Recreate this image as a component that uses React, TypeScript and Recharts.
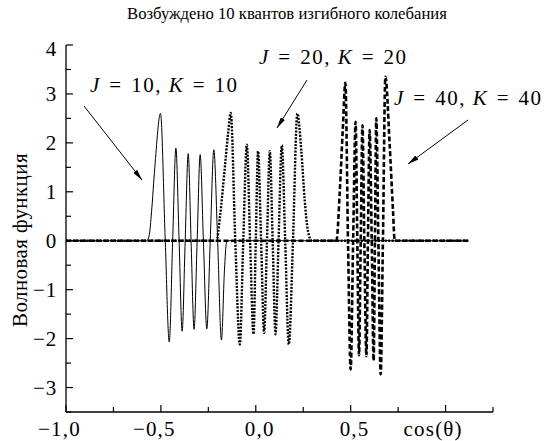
import { Line, LineChart, XAxis, YAxis } from 'recharts';

// axis ticks
const xTicks = [-1, -0.75, -0.5, -0.25, 0, 0.25, 0.5, 0.75, 1, 1.25];
const xTickLabels = ['−1,0', '', '−0,5', '', '0,0', '', '0,5', '', 'cos(θ)', ''];
const yTicks = [-3.5, -3, -2.5, -2, -1.5, -1, -0.5, 0, 0.5, 1, 1.5, 2, 2.5, 3, 3.5, 4];
const yTickLabels = ['', '−3', '', '−2', '', '−1', '', '0', '', '1', '', '2', '', '3', '', '4'];

// J = 10, K = 10 (solid)
const j10X = [-1, -0.575, -0.562, -0.549, -0.532, -0.502, -0.477, -0.456, -0.438, -0.421, -0.404, -0.388, -0.372, -0.356, -0.341, -0.325, -0.309, -0.293, -0.276, -0.258, -0.24, -0.221, -0.201, -0.181, -0.165, -0.155, -0.145, 1.12];
const j10Y = [0, 0, 0.1, 0.6, 1.5, 2.6, 0, -2.07, 0, 1.89, 0, -1.85, 0, 1.78, 0, -1.81, 0, 1.76, 0, -1.8, 0, 1.86, 0, -2.03, -0.6, -0.05, 0, 0];

// J = 20, K = 20 (dotted)
const j20X = [-1, -0.207, -0.189, -0.163, -0.146, -0.132, -0.108, -0.084, -0.066, -0.047, -0.03, -0.012, 0, 0.012, 0.028, 0.044, 0.059, 0.074, 0.089, 0.104, 0.12, 0.137, 0.155, 0.174, 0.196, 0.219, 0.24, 0.258, 0.275, 0.295, 1.12];
const j20Y = [0, 0, 0.48, 1.5, 2.19, 2.61, 0, -2.12, 0, 1.96, 0, -1.91, 0, 1.83, 0, -1.88, 0, 1.83, 0, -1.91, 0, 1.95, 0, -2.12, 0, 2.6, 1.84, 0.82, 0.2, 0, 0];

// J = 40, K = 40 (dashed)
const j40X = [-1, 0.425, 0.442, 0.459, 0.472, 0.486, 0.5, 0.513, 0.526, 0.535, 0.544, 0.553, 0.562, 0.572, 0.583, 0.591, 0.6, 0.611, 0.621, 0.628, 0.635, 0.646, 0.658, 0.67, 0.683, 0.705, 0.723, 0.732, 1.12];
const j40Y = [0, 0, 0.96, 2.32, 3.23, 0, -2.63, 0, 2.43, 0, -2.34, 0, 2.36, 0, -2.36, 0, 2.26, 0, -2.45, 0, 2.5, 0, -2.73, 0, 3.35, 2.0, 0.62, 0, 0];

const toRows = (xs: number[], ys: number[]) => xs.map((x, i) => ({ x, y: ys[i] }));
const j10Data = toRows(j10X, j10Y);
const j20Data = toRows(j20X, j20Y);
const j40Data = toRows(j40X, j40Y);

const FONT = '"Liberation Serif", "DejaVu Serif", serif';

function XTick(props: any) {
  const { x, y, payload } = props;
  const i = xTicks.indexOf(payload.value);
  const label = xTickLabels[i] || '';
  const major = label !== '';
  let dx = -11;
  if (label.startsWith('−')) dx = -28;
  if (label.startsWith('cos')) dx = -42;
  return (
    <g>
      <line x1={x} y1={y} x2={x} y2={y - (major ? 7 : 5)} stroke="#000" strokeWidth={1.2} />
      {label ? (
        <text x={x + dx} y={y + 24} fontFamily={FONT} fontSize={21} letterSpacing={1.2} fill="#000" textAnchor="start">
          {label}
        </text>
      ) : null}
    </g>
  );
}

function YTick(props: any) {
  const { x, y, payload } = props;
  const i = yTicks.indexOf(payload.value);
  const label = yTickLabels[i] || '';
  const major = label !== '';
  return (
    <g>
      <line x1={x} y1={y} x2={x + (major ? 7 : 5)} y2={y} stroke="#000" strokeWidth={1.2} />
      {label ? (
        <text x={x - 9} y={y + 7 + (payload.value === 4 ? 4 : 0)} fontFamily={FONT} fontSize={21} letterSpacing={0.8} fill="#000" textAnchor="end">
          {label}
        </text>
      ) : null}
    </g>
  );
}

function Label({ x, y, n }: { x: number; y: number; n: string }) {
  return (
    <text x={x} y={y} fontFamily={FONT} fontSize={21} fill="#000" letterSpacing={1.5}>
      <tspan fontStyle="italic">J</tspan>
      {`\u2004=\u2004${n}, `}
      <tspan fontStyle="italic">K</tspan>
      {`\u2004=\u2004${n}`}
    </text>
  );
}

export default function App() {
  return (
    <div style={{ position: 'absolute', left: 0, top: 0, width: 549, height: 441, background: '#fff' }}>
      <LineChart
        width={549}
        height={441}
        margin={{ top: 45, right: 56, bottom: 0, left: 0 }}
      >
        <XAxis
          type="number"
          dataKey="x"
          domain={[-1, 1.25]}
          ticks={xTicks}
          interval={0}
          allowDataOverflow
          height={29}
          tickSize={0}
          tickMargin={0}
          tickLine={false}
          axisLine={{ stroke: '#000', strokeWidth: 1.3 }}
          tick={<XTick />}
        />
        <YAxis
          type="number"
          domain={[-3.5, 4]}
          ticks={yTicks}
          interval={0}
          allowDataOverflow
          width={66}
          tickSize={0}
          tickMargin={0}
          tickLine={false}
          axisLine={{ stroke: '#000', strokeWidth: 1.3 }}
          tick={<YTick />}
        />
        <Line
          data={j40Data}
          dataKey="y"
          type="monotone"
          stroke="#000"
          strokeWidth={2.6}
          strokeDasharray="5 2.5"
          dot={false}
          isAnimationActive={false}
        />
        <Line
          data={j20Data}
          dataKey="y"
          type="monotone"
          stroke="#000"
          strokeWidth={2.4}
          strokeDasharray="2 1.4"
          dot={false}
          isAnimationActive={false}
        />
        <Line
          data={j10Data}
          dataKey="y"
          type="monotone"
          stroke="#000"
          strokeWidth={1}
          dot={false}
          isAnimationActive={false}
        />
      </LineChart>
      <svg
        width={549}
        height={441}
        style={{ position: 'absolute', left: 0, top: 0, pointerEvents: 'none' }}
      >
        <defs>
          <marker id="ah" viewBox="0 0 11 5" refX="11" refY="2.5" markerWidth="11" markerHeight="5" markerUnits="userSpaceOnUse" orient="auto">
            <path d="M0,0 L11,2.5 L0,5 z" fill="#000" />
          </marker>
        </defs>
        <text x={287} y={19} textAnchor="middle" fontFamily={FONT} fontSize={16.7} fill="#000">
          Возбуждено 10 квантов изгибного колебания
        </text>
        <text
          x={0}
          y={0}
          transform="translate(27, 240) rotate(-90)"
          textAnchor="middle"
          fontFamily={FONT}
          fontSize={21}
          letterSpacing={0.4}
          fill="#000"
        >
          Волновая функция
        </text>
        <Label x={90} y={92} n="10" />
        <Label x={259} y={64} n="20" />
        <Label x={394} y={105} n="40" />
        <line x1={84} y1={106} x2={142} y2={180} stroke="#000" strokeWidth={1} markerEnd="url(#ah)" />
        <line x1={307} y1={80} x2={277} y2={128} stroke="#000" strokeWidth={1} markerEnd="url(#ah)" />
        <line x1={468} y1={120} x2={408} y2={164} stroke="#000" strokeWidth={1} markerEnd="url(#ah)" />
      </svg>
    </div>
  );
}
